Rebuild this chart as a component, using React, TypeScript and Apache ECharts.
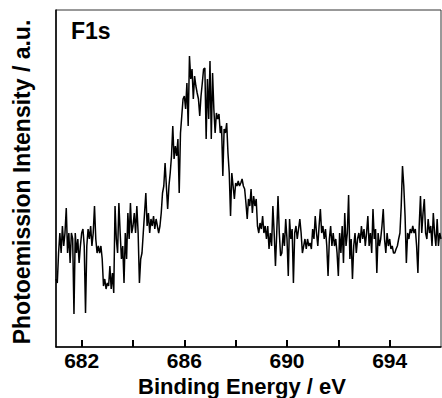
import React, { useEffect, useRef } from "react";
import * as echarts from "echarts";

const energyStart = 681;
const energyStep = 0.05;
const intensity = [
  68, 64, 94, 114, 94, 121, 101, 114, 139, 94, 114, 84, 114, 108, 33, 114, 94, 108, 84, 101, 114,
  118, 101, 34, 101, 118, 108, 121, 101, 114, 141, 108, 94, 101, 94, 101, 88, 61, 68, 58, 64,
  61, 81, 58, 74, 54, 141, 108, 94, 144, 114, 88, 101, 64, 114, 88, 134, 108, 144, 114, 121,
  134, 114, 141, 114, 64, 88, 94, 114, 134, 154, 121, 134, 114, 128, 121, 131, 118, 128, 121, 114,
  121, 134, 154, 161, 184, 161, 138, 161, 174, 191, 221, 188, 201, 191, 208, 154, 214, 231, 248, 251,
  238, 264, 221, 291, 268, 278, 248, 271, 261, 254, 248, 231, 251, 264, 278, 279, 208, 268, 228, 286,
  208, 274, 238, 214, 234, 228, 233, 214, 221, 171, 218, 214, 224, 194, 174, 131, 174, 161, 148, 164,
  161, 166, 161, 164, 168, 161, 158, 144, 128, 148, 141, 158, 134, 151, 141, 148, 121, 114, 124, 118,
  131, 114, 121, 108, 121, 98, 114, 101, 141, 114, 81, 114, 151, 114, 91, 94, 114, 101, 128, 108,
  71, 128, 108, 118, 64, 114, 121, 108, 118, 128, 114, 94, 101, 108, 98, 108, 101, 104, 98, 118,
  108, 131, 114, 101, 121, 138, 114, 121, 108, 118, 101, 71, 108, 121, 101, 114, 101, 108, 94, 71,
  114, 94, 121, 84, 134, 101, 114, 152, 88, 108, 68, 101, 114, 94, 108, 114, 104, 121, 108, 118,
  101, 114, 131, 101, 114, 94, 138, 108, 118, 74, 114, 101, 108, 121, 138, 108, 94, 114, 101, 108,
  98, 101, 94, 94, 98, 101, 108, 114, 141, 181, 161, 131, 84, 114, 108, 118, 114, 121, 114, 118,
  101, 74, 121, 151, 114, 134, 148, 114, 108, 128, 114, 121, 101, 134, 114, 101, 128, 101, 114, 108,
];
const xTickValues = [682, 684, 686, 688, 690, 692, 694];
const xLabelValues = [682, 686, 690, 694];
const xMin = 681;
const xMax = 696;
const yMin = 0;
const yMax = 337;
const xTitle = "Binding Energy / eV";
const yTitle = "Photoemission Intensity / a.u.";
const panelLabel = "F1s";

const FONT = "Liberation Sans, Arial, sans-serif";

export default function App() {
  const ref = useRef<HTMLDivElement>(null);
  useEffect(() => {
    document.body.style.margin = "0";
    if (!ref.current) return;
    const chart = echarts.init(ref.current, undefined, { renderer: "svg" });
    const data = intensity.map((v, i) => [
      +(energyStart + energyStep * i).toFixed(2),
      v,
    ]);
    chart.setOption({
      animation: false,
      backgroundColor: "#ffffff",
      grid: {
        left: 56,
        right: 1,
        top: 10,
        bottom: 51,
        show: true,
        borderColor: "#333",
        borderWidth: 1,
      },
      graphic: [
        {
          type: "text",
          left: 71,
          top: 19,
          style: {
            text: panelLabel,
            font: `bold 23px ${FONT}`,
            fill: "#000",
          },
        },
        {
          type: "text",
          x: 242,
          y: 386,
          style: {
            text: xTitle,
            font: `bold 22px ${FONT}`,
            fill: "#000",
            textAlign: "center",
            textVerticalAlign: "middle",
          },
        },
        {
          type: "text",
          x: 22,
          y: 182,
          rotation: Math.PI / 2,
          style: {
            text: yTitle,
            font: `bold 23px ${FONT}`,
            fill: "#000",
            textAlign: "center",
            textVerticalAlign: "middle",
          },
        },
      ],
      xAxis: {
        type: "value",
        min: xMin,
        max: xMax,
        axisLine: { show: true, lineStyle: { color: "#000", width: 1.5 } },
        axisTick: {
          show: true,
          inside: true,
          length: 7,
          customValues: xTickValues,
          lineStyle: { color: "#000", width: 2 },
        },
        axisLabel: {
          show: true,
          customValues: xLabelValues,
          margin: 3,
          lineHeight: 21,
          fontFamily: FONT,
          fontWeight: "bold",
          fontSize: 21,
          color: "#000",
        },
        splitLine: { show: false },
      },
      yAxis: {
        type: "value",
        min: yMin,
        max: yMax,
        axisLine: { show: true, lineStyle: { color: "#000", width: 1.5 } },
        axisTick: { show: false },
        axisLabel: { show: false },
        splitLine: { show: false },
      },
      series: [
        {
          type: "line",
          data,
          showSymbol: false,
          symbol: "none",
          lineStyle: { color: "#000", width: 1.5 },
          clip: true,
        },
      ],
    });
    return () => chart.dispose();
  }, []);
  return <div ref={ref} style={{ width: 442, height: 398 }} />;
}
